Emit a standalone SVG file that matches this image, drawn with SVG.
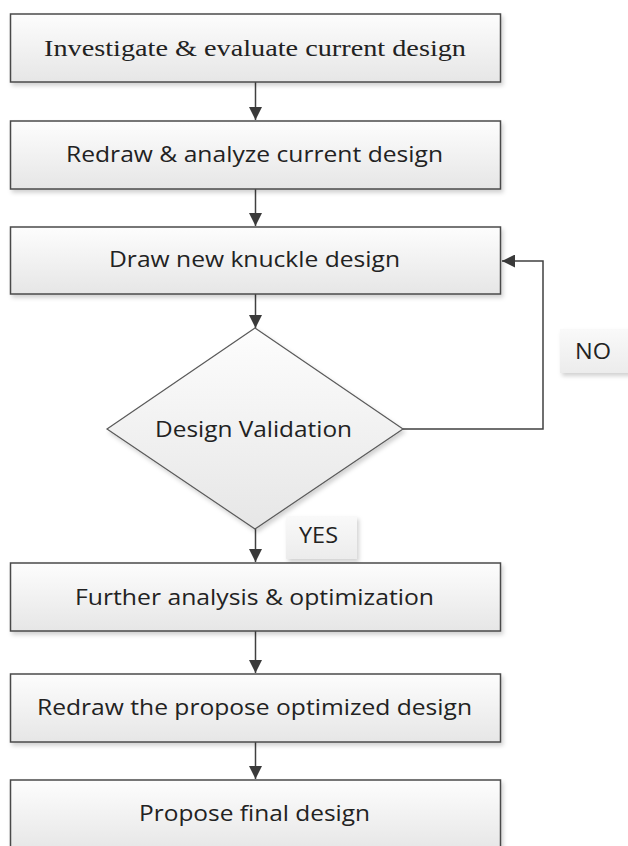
<svg xmlns="http://www.w3.org/2000/svg" width="628" height="846" viewBox="0 0 628 846">
<defs>
<linearGradient id="g" x1="0" y1="0" x2="0" y2="1">
<stop offset="0" stop-color="#fdfdfd"/>
<stop offset="1" stop-color="#e6e6e6"/>
</linearGradient>
<linearGradient id="gl" x1="0" y1="0" x2="0" y2="1">
<stop offset="0" stop-color="#f9f9f9"/>
<stop offset="1" stop-color="#ececec"/>
</linearGradient>
<filter id="sh" x="-10%" y="-10%" width="120%" height="130%">
<feDropShadow dx="2" dy="3" stdDeviation="2" flood-color="#000" flood-opacity="0.18"/>
</filter>
<marker id="ah" markerWidth="13" markerHeight="13" refX="13" refY="6.5" orient="auto" markerUnits="userSpaceOnUse">
<path d="M0,0 L13,6.5 L0,13 Z" fill="#3a3a3a"/>
</marker>
</defs>
<style>
.box{fill:url(#g);stroke:#4a4a4a;stroke-width:1.5;filter:url(#sh)}
.dia{fill:url(#g);stroke:#5a5a5a;stroke-width:1.2;filter:url(#sh)}
.lbl{fill:url(#gl);stroke:none;filter:url(#sh)}
.t{font-family:"Open Sans","Liberation Sans",sans-serif;font-size:22px;fill:#222;text-anchor:middle}
.ts{font-family:"Liberation Serif","Times New Roman",serif;font-size:24px;fill:#222;text-anchor:middle}
.c{fill:none;stroke:#404040;stroke-width:1.5}
</style>
<rect width="628" height="846" fill="#fff"/>
<g id="connectors">
<line class="c" x1="255.5" y1="82" x2="255.5" y2="120" marker-end="url(#ah)"/>
<line class="c" x1="255.5" y1="189" x2="255.5" y2="226" marker-end="url(#ah)"/>
<line class="c" x1="255.5" y1="294" x2="255.5" y2="328" marker-end="url(#ah)"/>
<line class="c" x1="255.5" y1="529" x2="255.5" y2="562" marker-end="url(#ah)"/>
<line class="c" x1="255.5" y1="631" x2="255.5" y2="673" marker-end="url(#ah)"/>
<line class="c" x1="255.5" y1="742" x2="255.5" y2="779" marker-end="url(#ah)"/>
<polyline class="c" points="403,429 543,429 543,261 502,261" marker-end="url(#ah)"/>
</g>
<g id="n1"><rect class="box" x="10.5" y="14" width="490" height="68"/><text class="ts" x="255" y="56" textLength="422" lengthAdjust="spacingAndGlyphs">Investigate &amp; evaluate current design</text></g>
<g id="n2"><rect class="box" x="10.5" y="121" width="490" height="68"/><text class="t" x="254.5" y="162" textLength="377" lengthAdjust="spacingAndGlyphs">Redraw &amp; analyze current design</text></g>
<g id="n3"><rect class="box" x="10.5" y="227" width="490" height="67"/><text class="t" x="254.5" y="267" textLength="291" lengthAdjust="spacingAndGlyphs">Draw new knuckle design</text></g>
<g id="n4"><polygon class="dia" points="255,328 403,429 255,529 107,429"/><text class="t" x="253.5" y="437" textLength="197" lengthAdjust="spacingAndGlyphs">Design Validation</text></g>
<g id="lno"><rect class="lbl" x="560" y="329" width="70" height="44"/><text class="t" x="593" y="359" textLength="36" lengthAdjust="spacingAndGlyphs">NO</text></g>
<g id="lyes"><rect class="lbl" x="286" y="516" width="71" height="43"/><text class="t" x="318.5" y="543" textLength="39" lengthAdjust="spacingAndGlyphs">YES</text></g>
<g id="n5"><rect class="box" x="10.5" y="563" width="490" height="68"/><text class="t" x="254.5" y="605" textLength="359" lengthAdjust="spacingAndGlyphs">Further analysis &amp; optimization</text></g>
<g id="n6"><rect class="box" x="10.5" y="674" width="490" height="68"/><text class="t" x="254.5" y="715" textLength="435" lengthAdjust="spacingAndGlyphs">Redraw the propose optimized design</text></g>
<g id="n7"><rect class="box" x="10.5" y="780" width="490" height="72"/><text class="t" x="254.5" y="821" textLength="231" lengthAdjust="spacingAndGlyphs">Propose final design</text></g>
</svg>
